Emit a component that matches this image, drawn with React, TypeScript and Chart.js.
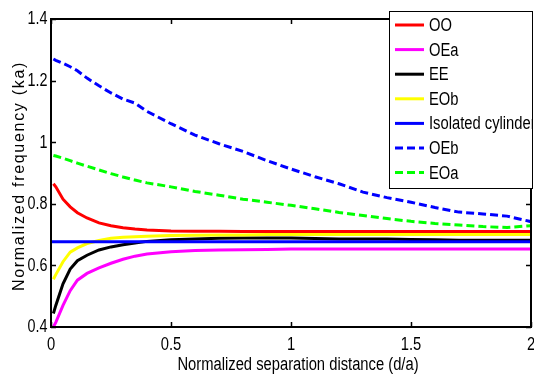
import React, { useEffect, useRef } from "react";
import { Chart, registerables } from "chart.js";

Chart.register(...registerables);

// ---- data ----
const distances = [0.01, 0.02, 0.05, 0.08, 0.11, 0.15, 0.2, 0.25, 0.3, 0.35, 0.4, 0.5, 0.6, 0.7, 0.8, 0.9, 1.0, 1.1, 1.2, 1.3, 1.4, 1.5, 1.6, 1.7, 1.8, 1.9, 2.0];
const ooValues = [0.865, 0.855, 0.815, 0.79, 0.771, 0.754, 0.738, 0.729, 0.722, 0.718, 0.715, 0.712, 0.711, 0.711, 0.71, 0.71, 0.71, 0.71, 0.71, 0.71, 0.71, 0.71, 0.71, 0.71, 0.71, 0.71, 0.71];
const oeaValues = [0.4, 0.415, 0.47, 0.518, 0.552, 0.574, 0.592, 0.607, 0.62, 0.63, 0.637, 0.644, 0.648, 0.65, 0.651, 0.652, 0.653, 0.653, 0.653, 0.653, 0.653, 0.653, 0.653, 0.653, 0.653, 0.653, 0.653];
const eeValues = [0.444, 0.47, 0.54, 0.588, 0.615, 0.633, 0.65, 0.66, 0.667, 0.673, 0.678, 0.683, 0.686, 0.688, 0.689, 0.689, 0.689, 0.687, 0.686, 0.686, 0.686, 0.684, 0.683, 0.682, 0.682, 0.682, 0.682];
const eobValues = [0.555, 0.57, 0.612, 0.643, 0.657, 0.671, 0.681, 0.688, 0.691, 0.693, 0.695, 0.697, 0.698, 0.699, 0.699, 0.7, 0.7, 0.7, 0.7, 0.7, 0.7, 0.7, 0.7, 0.7, 0.7, 0.7, 0.7];
const isolatedDistances = [0, 2];
const isolatedValues = [0.677, 0.677];
const oebValues = [1.27, 1.266, 1.256, 1.245, 1.232, 1.208, 1.183, 1.16, 1.14, 1.127, 1.1, 1.06, 1.023, 0.995, 0.97, 0.94, 0.913, 0.888, 0.865, 0.838, 0.82, 0.805, 0.788, 0.773, 0.767, 0.76, 0.742];
const eoaValues = [0.957, 0.955, 0.948, 0.94, 0.932, 0.922, 0.91, 0.898, 0.887, 0.877, 0.868, 0.855, 0.84, 0.828, 0.815, 0.805, 0.795, 0.784, 0.772, 0.762, 0.752, 0.743, 0.736, 0.731, 0.726, 0.723, 0.729];

const seriesLabels = ["OO", "OEa", "EE", "EOb", "Isolated cylinder", "OEb", "EOa"];
const seriesColors = ["#ff0000", "#ff00ff", "#000000", "#ffff00", "#0000ff", "#0000ff", "#00ff00"];
const seriesDashed = [false, false, false, false, false, true, true];

const xTickValues = [0, 0.5, 1, 1.5, 2];
const xTickLabels = ["0", "0.5", "1", "1.5", "2"];
const yTickValues = [0.4, 0.6, 0.8, 1.0, 1.2, 1.4];
const yTickLabels = ["0.4", "0.6", "0.8", "1", "1.2", "1.4"];

const xTitle = "Normalized separation distance (d/a)";
const yTitle = "Normalized frequency (ka)";

const SANS = '"Liberation Sans", Arial, sans-serif';
const DASH = [8, 4];

function pairs(xs: number[], ys: number[]) {
  return xs.map((x, i) => ({ x, y: ys[i] }));
}

// Arial-Narrow-like text: Liberation Sans compressed horizontally
function narrowText(ctx: CanvasRenderingContext2D, text: string, x: number, y: number, size: number, align: CanvasTextAlign, baseline: CanvasTextBaseline) {
  ctx.save();
  ctx.translate(x, y);
  ctx.scale(0.82, 1);
  ctx.font = `${size}px ${SANS}`;
  ctx.fillStyle = "#000";
  ctx.textAlign = align;
  ctx.textBaseline = baseline;
  ctx.fillText(text, 0, 0);
  ctx.restore();
}

const framePlugin = {
  id: "framePlugin",
  afterDatasetsDraw(chart: any) {
    const { ctx, chartArea } = chart;
    const { left, right, top, bottom } = chartArea;
    const xs = chart.scales.x;
    const ys = chart.scales.y;
    ctx.save();
    ctx.strokeStyle = "#000";
    ctx.lineWidth = 2;
    ctx.setLineDash([]);
    ctx.strokeRect(left, top, right - left, bottom - top);
    ctx.lineWidth = 1.5;
    const tl = 5;
    ctx.beginPath();
    xTickValues.forEach((v) => {
      const px = Math.round(xs.getPixelForValue(v)) + 0.5;
      ctx.moveTo(px, bottom);
      ctx.lineTo(px, bottom - tl);
      ctx.moveTo(px, top);
      ctx.lineTo(px, top + tl);
    });
    yTickValues.forEach((v) => {
      const py = Math.round(ys.getPixelForValue(v)) + 0.5;
      ctx.moveTo(left, py);
      ctx.lineTo(left + tl, py);
      ctx.moveTo(right, py);
      ctx.lineTo(right - tl, py);
    });
    ctx.stroke();

    // tick labels
    xTickValues.forEach((v, i) => {
      narrowText(ctx, xTickLabels[i], xs.getPixelForValue(v), bottom + 23, 18, "center", "alphabetic");
    });
    yTickValues.forEach((v, i) => {
      narrowText(ctx, yTickLabels[i], left - 3.5, ys.getPixelForValue(v) + 0.5, 17.5, "right", "middle");
    });

    // axis titles
    narrowText(ctx, xTitle, (left + right) / 2 + 7, 370, 18, "center", "alphabetic");

    ctx.save();
    ctx.translate(24, 176);
    ctx.rotate(-Math.PI / 2);
    ctx.font = `16px ${SANS}`;
    ctx.fillStyle = "#000";
    try {
      (ctx as any).letterSpacing = "1.7px";
    } catch (e) {}
    ctx.textAlign = "center";
    ctx.textBaseline = "alphabetic";
    ctx.fillText(yTitle, 0, 0);
    ctx.restore();

    // legend box
    const bx = 389.5, by = 11.5, bw = 143, bh = 177;
    ctx.fillStyle = "#fff";
    ctx.fillRect(bx, by, bw, bh);
    const rowTop = 25;
    const rowStep = 24.6;
    chart.data.datasets.forEach((ds: any, i: number) => {
      const cy = rowTop + i * rowStep;
      ctx.strokeStyle = ds.borderColor;
      ctx.lineWidth = 3;
      ctx.setLineDash(ds.borderDash || []);
      ctx.beginPath();
      ctx.moveTo(395, cy);
      ctx.lineTo(424, cy);
      ctx.stroke();
      ctx.setLineDash([]);
      narrowText(ctx, ds.label, 429, cy + 1, 18, "left", "middle");
    });
    // white strip beyond the legend's right border (text is clipped there)
    ctx.fillStyle = "#fff";
    ctx.fillRect(bx + bw, by - 1, 534 - (bx + bw), bh + 2);
    ctx.strokeStyle = "#000";
    ctx.lineWidth = 1;
    ctx.setLineDash([]);
    ctx.strokeRect(bx, by, bw, bh);
    ctx.restore();
  },
};

export default function App() {
  const canvasRef = useRef<HTMLCanvasElement | null>(null);

  useEffect(() => {
    document.body.style.margin = "0";
    const canvas = canvasRef.current;
    if (!canvas) return;
    const seriesValues = [ooValues, oeaValues, eeValues, eobValues, isolatedValues, oebValues, eoaValues];
    const datasets = seriesLabels.map((label, i) => ({
      label,
      data: pairs(i === 4 ? isolatedDistances : distances, seriesValues[i]),
      borderColor: seriesColors[i],
      backgroundColor: seriesColors[i],
      borderWidth: 3,
      borderDash: seriesDashed[i] ? DASH : [],
      pointRadius: 0,
      tension: 0,
      fill: false,
      order: 10 - i,
    }));

    const chart = new Chart(canvas, {
      type: "line",
      data: { datasets },
      options: {
        responsive: false,
        animation: false,
        devicePixelRatio: 1,
        layout: { padding: { top: 19, right: 3, left: 0, bottom: 0 } },
        plugins: { legend: { display: false }, tooltip: { enabled: false }, title: { display: false } },
        scales: {
          x: {
            type: "linear",
            min: 0,
            max: 2,
            grid: { display: false, drawTicks: false },
            border: { display: false },
            afterBuildTicks: (scale: any) => {
              scale.ticks = xTickValues.map((v) => ({ value: v }));
            },
            afterFit: (scale: any) => {
              scale.height = 58;
            },
            ticks: { display: false },
          },
          y: {
            type: "linear",
            min: 0.4,
            max: 1.4,
            grid: { display: false, drawTicks: false },
            border: { display: false },
            afterBuildTicks: (scale: any) => {
              scale.ticks = yTickValues.map((v) => ({ value: v }));
            },
            afterFit: (scale: any) => {
              scale.width = 51;
            },
            ticks: { display: false },
          },
        },
      },
      plugins: [framePlugin],
    } as any);

    return () => chart.destroy();
  }, []);

  return (
    <div style={{ width: 534, height: 385 }}>
      <canvas ref={canvasRef} width={534} height={385} style={{ display: "block" }} />
    </div>
  );
}
